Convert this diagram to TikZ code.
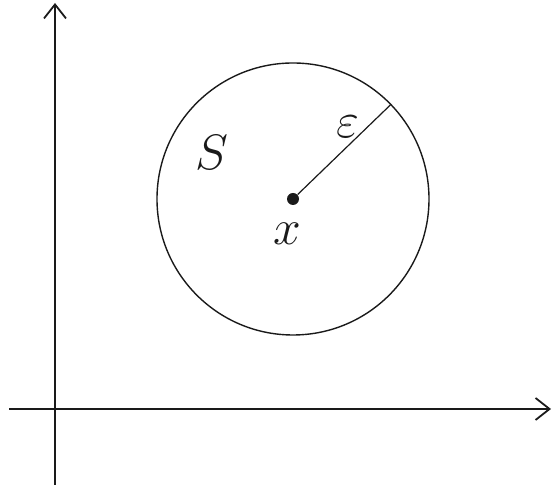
\documentclass[tikz,border=0pt]{standalone}
\usetikzlibrary{arrows.meta,calc}
\definecolor{ink}{HTML}{1A1A1A}
\tikzset{
  every picture/.style={x=0.5pt, y=0.5pt, draw=ink, text=ink},
  axis/.style={line width=1pt, -{Straight Barb[length=7pt, width=11pt, line width=0.9pt]}},
  disc/.style={circle, fill=ink, inner sep=0pt, minimum size=6pt},
  rim/.style={line width=0.7pt},
  radius line/.style={line width=0.6pt},
  lbl/.style={font=\Huge, inner sep=0pt},
}
\begin{document}
\begin{tikzpicture}
\useasboundingbox (0,0) rectangle (552,491);
% axes
\coordinate (ybot) at (55,6);
\coordinate (ytop) at (55,488);
\coordinate (xleft) at (9,82);
\coordinate (xright) at (551,82);
\draw[axis] (ybot) -- (ytop);
\draw[axis] (xleft) -- (xright);
% the ball round x
\node[disc] (x) at (293,292) {};
\draw[rim] (x.center) circle[radius=136];
\coordinate (edge) at ($(x.center)+(44:136)$);
\draw[radius line] (x) -- (edge);
\node[lbl] (xlbl) at (287,257) {$x$};
\node[lbl] (eps) at (348,364) {$\varepsilon$};
\node[lbl] (set) at (212,338) {$S$};
\end{tikzpicture}
\end{document}
